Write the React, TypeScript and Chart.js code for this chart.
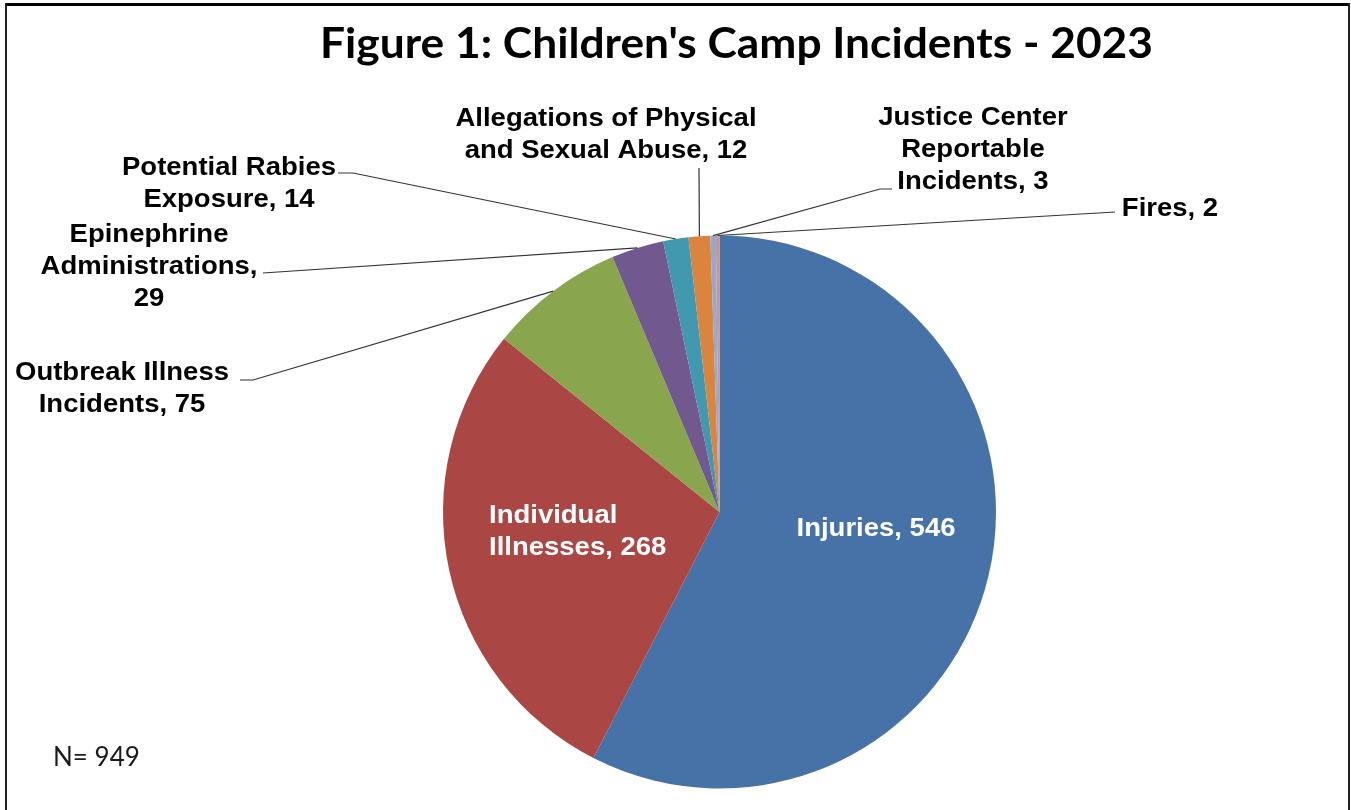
import React, { useEffect, useRef } from "react";
import { Chart, registerables } from "chart.js";

Chart.register(...registerables);

// ---- data ----
const categories = [
  "Injuries",
  "Individual Illnesses",
  "Outbreak Illness Incidents",
  "Epinephrine Administrations",
  "Potential Rabies Exposure",
  "Allegations of Physical and Sexual Abuse",
  "Justice Center Reportable Incidents",
  "Fires",
];
const counts = [546, 268, 75, 29, 14, 12, 3, 2];
const titleText = "Figure 1: Children's Camp Incidents - 2023";
const noteText = "N= 949";

// ---- styles / layout ----
const sliceColors = [
  "#4672A8",
  "#AA4644",
  "#89A54E",
  "#71588F",
  "#4198AF",
  "#DB843D",
  "#93A9CF",
  "#D19392",
];
// words per line for each data label ("Category, value")
const lineWords = [[2], [1, 2], [2, 2], [1, 1, 1], [2, 2], [3, 4], [2, 1, 2], [2]];
type LabelPos = {
  inside?: boolean;
  x: number;
  y: number;
  align: CanvasTextAlign;
  end?: [number, number];
  elbow?: [number, number];
};
const labelLayout: LabelPos[] = [
  { inside: true, x: 876, y: 536, align: "center" },
  { inside: true, x: 489, y: 523, align: "left" },
  { x: 122, y: 380, align: "center", end: [240, 380], elbow: [253, 380] },
  { x: 149, y: 242, align: "center", end: [263, 273] },
  { x: 229, y: 175, align: "center", end: [338, 173], elbow: [353, 173] },
  { x: 606, y: 126, align: "center", end: [699, 168] },
  { x: 973, y: 125, align: "center", end: [892, 189], elbow: [880, 189] },
  { x: 1170, y: 216, align: "center", end: [1115, 212] },
];
const LABEL_FONT = "bold 25px 'Liberation Sans', Arial, sans-serif";
const LABEL_STRETCH = 1.1;
const LINE_H = 32;

function labelLines(i: number): string[] {
  const words = `${categories[i]}, ${counts[i]}`.split(" ");
  const out: string[] = [];
  let k = 0;
  for (const n of lineWords[i]) {
    out.push(words.slice(k, k + n).join(" "));
    k += n;
  }
  return out;
}

const decorPlugin = {
  id: "decor",
  afterDraw(chart: any) {
    const ctx: CanvasRenderingContext2D = chart.ctx;
    ctx.save();
    // frame
    ctx.fillStyle = "#000";
    ctx.fillRect(5, 3, 1345, 3);
    ctx.fillStyle = "#222";
    ctx.fillRect(5, 3, 2, 807);
    ctx.fillRect(1348, 3, 2, 807);

    // title
    ctx.fillStyle = "#000";
    ctx.font = "bold 42px Lato, 'Open Sans', sans-serif";
    ctx.textAlign = "center";
    ctx.textBaseline = "alphabetic";
    const tw = ctx.measureText(titleText).width;
    ctx.save();
    ctx.translate(736.5, 58);
    ctx.scale(833 / tw, 1);
    ctx.fillText(titleText, 0, 0);
    ctx.restore();

    // note
    ctx.font = "26px Lato, 'Open Sans', sans-serif";
    ctx.textAlign = "left";
    ctx.fillStyle = "#1a1a1a";
    ctx.fillText(noteText, 53, 766);

    // leaders + labels
    const meta = chart.getDatasetMeta(0);
    meta.data.forEach((arc: any, i: number) => {
      const L = labelLayout[i];
      const p = arc.getProps(["x", "y", "startAngle", "endAngle", "outerRadius"], true);
      if (L.end) {
        const mid = (p.startAngle + p.endAngle) / 2;
        const px = p.x + Math.cos(mid) * p.outerRadius;
        const py = p.y + Math.sin(mid) * p.outerRadius;
        ctx.strokeStyle = "#333";
        ctx.lineWidth = 1.2;
        ctx.beginPath();
        ctx.moveTo(px, py);
        if (L.elbow) ctx.lineTo(L.elbow[0], L.elbow[1]);
        ctx.lineTo(L.end[0], L.end[1]);
        ctx.stroke();
      }
      ctx.font = LABEL_FONT;
      ctx.fillStyle = L.inside ? "#fff" : "#000";
      ctx.textAlign = L.align;
      labelLines(i).forEach((ln, j) => {
        ctx.save();
        ctx.translate(L.x, L.y + j * LINE_H);
        ctx.scale(LABEL_STRETCH, 1);
        ctx.fillText(ln, 0, 0);
        ctx.restore();
      });
    });
    ctx.restore();
  },
};

export default function App() {
  const ref = useRef<HTMLCanvasElement>(null);
  useEffect(() => {
    if (!ref.current) return;
    const chart = new Chart(ref.current, {
      type: "pie",
      data: {
        labels: categories,
        datasets: [
          {
            data: counts,
            backgroundColor: sliceColors,
            borderWidth: 0,
          },
        ],
      },
      options: {
        animation: false,
        responsive: false,
        events: [],
        layout: { padding: { top: 235.5, bottom: 21.5, left: 88, right: 0 } },
        plugins: {
          legend: { display: false },
          tooltip: { enabled: false },
          title: { display: false },
        },
      },
      plugins: [decorPlugin],
    });
    return () => chart.destroy();
  }, []);
  return (
    <div style={{ position: "absolute", left: 0, top: 0, width: 1351, height: 810, background: "#fff" }}>
      <canvas ref={ref} width={1351} height={810} style={{ width: 1351, height: 810, display: "block" }} />
    </div>
  );
}
